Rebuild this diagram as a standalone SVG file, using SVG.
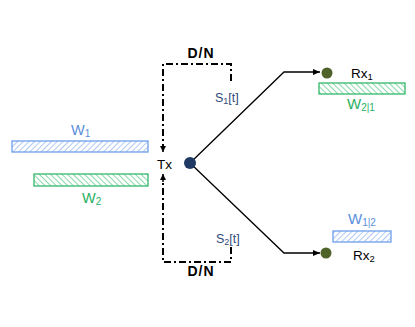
<svg xmlns="http://www.w3.org/2000/svg" width="415" height="327" viewBox="0 0 415 327">
<style>
.dd{fill:none;stroke:#000;stroke-width:2;stroke-dasharray:7 3 2 3}
.ln{fill:none;stroke:#000;stroke-width:1.3}
.t{font-family:"Liberation Sans",Arial,sans-serif}
.dn{font-family:"Liberation Sans",Arial,sans-serif;font-size:14px;font-weight:bold;letter-spacing:1px}
.s{font-family:"Liberation Sans",Arial,sans-serif;font-size:12.5px;fill:#2f4a7a}
.blue{fill:#5b8fdc}
.green{fill:#2bb061}
.bb{fill:url(#hb);stroke:#6d9eeb;stroke-width:1.3}
.gb{fill:url(#hg);stroke:#34b96c;stroke-width:1.3}
</style>
<defs>
<pattern id="hb" width="4" height="4" patternUnits="userSpaceOnUse" patternTransform="rotate(45)">
<rect width="4" height="4" fill="#fff"/>
<line x1="0" y1="0" x2="0" y2="4" stroke="#9dbdf0" stroke-width="1.6"/>
</pattern>
<pattern id="hg" width="4" height="4" patternUnits="userSpaceOnUse" patternTransform="rotate(-45)">
<rect width="4" height="4" fill="#fff"/>
<line x1="0" y1="0" x2="0" y2="4" stroke="#6ccf95" stroke-width="1.6"/>
</pattern>
<marker id="ah" markerWidth="8" markerHeight="8" refX="7" refY="4" orient="auto" markerUnits="userSpaceOnUse">
<path d="M0,1 L7,4 L0,7 Z" fill="#000"/>
</marker>
<marker id="as" markerWidth="8" markerHeight="8" refX="6" refY="3.5" orient="auto" markerUnits="userSpaceOnUse">
<path d="M0,0.5 L6,3.5 L0,6.5 Z" fill="#000"/>
</marker>
</defs>
<g id="connectors">
<path class="dd" d="M231,81 V64 H163 V146"/>
<line x1="163" y1="144" x2="163" y2="152" stroke="#000" stroke-width="1.5" marker-end="url(#as)"/>
<path class="dd" d="M231,247 V262 H163 V181"/>
<line x1="163" y1="182" x2="163" y2="174" stroke="#000" stroke-width="1.5" marker-end="url(#as)"/>
<path class="ln" d="M190,163 L284,72 H320" marker-end="url(#ah)"/>
<path class="ln" d="M190,163 L284,253 H320" marker-end="url(#ah)"/>
<text class="dn" x="201" y="58" text-anchor="middle">D/N</text>
<text class="dn" x="201" y="276" text-anchor="middle">D/N</text>
<text class="s" x="215" y="102">S<tspan font-size="9" dy="2">1</tspan><tspan dy="-2">[t]</tspan></text>
<text class="s" x="216" y="243">S<tspan font-size="9" dy="2">2</tspan><tspan dy="-2">[t]</tspan></text>
</g>
<g id="tx">
<circle cx="190" cy="163" r="6" fill="#1f3864"/>
<text class="t" x="157" y="169" font-size="13.5">Tx</text>
</g>
<g id="w1">
<rect class="bb" x="12" y="141" width="136" height="11"/>
<text class="t blue" x="71" y="135" font-size="14.5">W<tspan font-size="10" dy="2">1</tspan></text>
</g>
<g id="w2">
<rect class="gb" x="34" y="174" width="114" height="12"/>
<text class="t green" x="82" y="203" font-size="14.5">W<tspan font-size="10" dy="2">2</tspan></text>
</g>
<g id="rx1">
<circle cx="327" cy="73" r="5.5" fill="#4f6228"/>
<text class="t" x="351" y="78" font-size="13.5">Rx<tspan font-size="9.5" dy="2">1</tspan></text>
</g>
<g id="w21">
<rect class="gb" x="319" y="83" width="86" height="11"/>
<text class="t green" x="347" y="109" font-size="15">W<tspan font-size="10" dy="2">2|1</tspan></text>
</g>
<g id="rx2">
<circle cx="326" cy="253" r="5.5" fill="#4f6228"/>
<text class="t" x="353" y="260" font-size="13.5">Rx<tspan font-size="9.5" dy="2">2</tspan></text>
</g>
<g id="w12">
<rect class="bb" x="333" y="231" width="58" height="11"/>
<text class="t blue" x="348" y="224" font-size="15">W<tspan font-size="10" dy="2">1|2</tspan></text>
</g>
</svg>
